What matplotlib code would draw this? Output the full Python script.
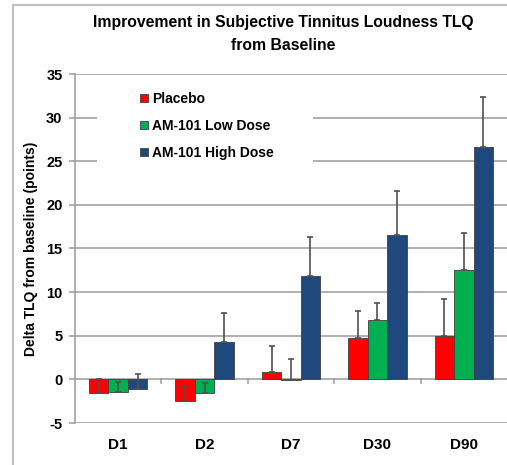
import numpy as np
import matplotlib.pyplot as plt
from matplotlib.patches import Rectangle

# Data
days = ['D1', 'D2', 'D7', 'D30', 'D90']
placebo = [-1.6, -2.5, 0.9, 4.7, 5.0]
placebo_err = [1.6, 1.6, 2.9, 3.1, 4.2]
low_dose = [-1.4, -1.6, -0.1, 6.8, 12.5]
low_dose_err = [1.1, 1.2, 2.4, 2.0, 4.3]
high_dose = [-1.1, 4.3, 11.8, 16.6, 26.6]
high_dose_err = [1.7, 3.3, 4.5, 5.0, 5.8]

series_names = ['Placebo', 'AM-101 Low Dose', 'AM-101 High Dose']
colors = ['#ff0000', '#00b050', '#1f497d']

plt.rcParams['font.family'] = ['Liberation Sans', 'DejaVu Sans']
plt.rcParams['font.weight'] = 'bold'
plt.rcParams['axes.unicode_minus'] = False

fig = plt.figure(figsize=(5.07, 4.65), dpi=100)
ax = fig.add_axes([75 / 507, 1 - 423 / 465, 432 / 507, 349 / 465])

x = np.arange(len(days))
w = 0.225
grid_c = '#9a9a9a'

for y in np.arange(-5, 36, 5):
    ax.axhline(y, color=grid_c, lw=1.1, zorder=0)

# white area behind the legend hides part of the grid
ax.add_patch(Rectangle((22 / 432, 27 / 40), 216 / 432, 11 / 40, transform=ax.transAxes,
                       facecolor='white', edgecolor='none', zorder=1))

all_vals = [placebo, low_dose, high_dose]
all_errs = [placebo_err, low_dose_err, high_dose_err]
for i, (vals, errs) in enumerate(zip(all_vals, all_errs)):
    pos = x + (i - 1) * w
    ax.bar(pos, vals, width=w, color=colors[i], edgecolor='#404040', lw=0.6,
           label=series_names[i], zorder=2)
    ax.errorbar(pos, vals, yerr=[np.zeros(len(errs)), errs], fmt='none',
                ecolor='#505050', elinewidth=1.2, capsize=2.5, capthick=1.2, zorder=3)

# category tick marks on the zero line
for b in x[:-1] + 0.5:
    ax.plot([b, b], [0, -0.45], color=grid_c, lw=1.1, zorder=1)

ax.set_xlim(-0.5, 4.5)
ax.set_ylim(-5, 35)
ax.set_yticks(np.arange(-5, 36, 5))
ax.set_xticks(x)
ax.set_xticklabels(days, fontsize=11, fontweight='bold')
ax.tick_params(axis='x', length=0, pad=11)
ax.tick_params(axis='y', length=4, width=1.1, color=grid_c, labelsize=10.5, pad=5)
for lab in ax.get_yticklabels():
    lab.set_fontweight('bold')

for s in ['top', 'right', 'bottom']:
    ax.spines[s].set_visible(False)
ax.spines['left'].set_color(grid_c)
ax.spines['left'].set_linewidth(1.1)

ax.set_ylabel('Delta TLQ from baseline (points)', fontsize=10, fontweight='bold', labelpad=6)

leg = ax.legend(loc='upper left', bbox_to_anchor=(65 / 432, 0.949), frameon=False,
                fontsize=10, handlelength=0.55, handleheight=0.55, handletextpad=0.35,
                labelspacing=0.95, borderpad=0, borderaxespad=0)
for t in leg.get_texts():
    t.set_fontweight('bold')

fig.text(283 / 507, 1 - 23 / 465, 'Improvement in Subjective Tinnitus Loudness TLQ',
         ha='center', va='center', fontsize=11.3, fontweight='bold')
fig.text(283 / 507, 1 - 45 / 465, 'from Baseline',
         ha='center', va='center', fontsize=11.3, fontweight='bold')

# outer chart frame
fig.patches.append(Rectangle((13 / 507, -0.1), 1.2, 1 - 5 / 465 + 0.1,
                             transform=fig.transFigure, fill=False,
                             edgecolor='#c0c0c0', lw=1.5))

fig.savefig('out.png', dpi=100)
